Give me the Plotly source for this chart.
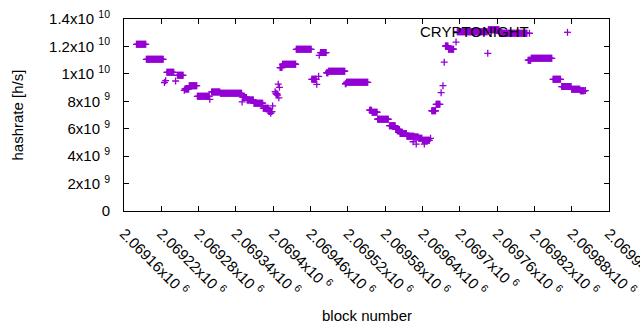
import plotly.graph_objects as go

# Step runs of hashrate (block range start/end inclusive, hashrate in h/s)
run_start = [2069180, 2069196, 2069229, 2069246, 2069258, 2069265, 2069278, 2069301, 2069315,
             2069351, 2069358, 2069369, 2069384, 2069393, 2069411, 2069415, 2069437, 2069462,
             2069476, 2069486, 2069489, 2069516, 2069518, 2069555, 2069559, 2069568, 2069587,
             2069597, 2069604, 2069615, 2069627, 2069634, 2069640, 2069655, 2069662, 2069677,
             2069682, 2069696, 2069746, 2069764, 2069810, 2069815, 2069850, 2069864, 2069880,
             2069894]
run_end = [2069195, 2069223, 2069240, 2069255, 2069264, 2069277, 2069297, 2069314, 2069349,
           2069357, 2069368, 2069383, 2069392, 2069398, 2069414, 2069436, 2069461, 2069469,
           2069485, 2069488, 2069515, 2069517, 2069552, 2069558, 2069567, 2069585, 2069596,
           2069603, 2069614, 2069626, 2069633, 2069639, 2069651, 2069661, 2069668, 2069681,
           2069690, 2069744, 2069763, 2069808, 2069814, 2069848, 2069862, 2069879, 2069893,
           2069900]
run_hashrate = [12.15e9, 11.06e9, 10.11e9, 9.89e9, 8.90e9, 9.14e9, 8.36e9, 8.68e9, 8.58e9,
                8.28e9, 8.10e9, 7.86e9, 7.50e9, 7.25e9, 10.46e9, 10.70e9, 11.79e9, 9.60e9,
                11.55e9, 10.08e9, 10.19e9, 9.28e9, 9.38e9, 7.35e9, 7.20e9, 6.69e9, 6.22e9,
                5.95e9, 5.65e9, 5.45e9, 5.40e9, 5.30e9, 5.15e9, 7.31e9, 7.78e9, 12.03e9,
                11.80e9, 13.07e9, 13.22e9, 12.96e9, 11.00e9, 11.13e9, 9.60e9, 9.07e9, 8.88e9,
                8.76e9]

# Individual blocks off the plateaus
single_block = [2069225, 2069227, 2069243, 2069257, 2069298, 2069350, 2069396, 2069399,
                2069403, 2069404, 2069405, 2069406, 2069407, 2069408, 2069409, 2069410,
                2069470, 2069473, 2069474, 2069625, 2069630, 2069643, 2069653, 2069670,
                2069673, 2069675, 2069694, 2069745, 2069812, 2069902]
single_hashrate = [9.37e9, 9.50e9, 9.48e9, 8.80e9, 8.14e9, 7.95e9, 7.12e9, 7.66e9,
                   8.70e9, 8.60e9, 8.52e9, 8.55e9, 8.45e9, 9.25e9, 8.25e9, 9.02e9,
                   9.24e9, 9.82e9, 11.35e9, 5.05e9, 4.88e9, 4.88e9, 5.30e9, 8.63e9,
                   9.14e9, 10.85e9, 12.32e9, 11.50e9, 12.96e9, 8.78e9]

x_tickvals = [2069160 + 60 * i for i in range(14)]
x_ticktext = ["2.06916", "2.06922", "2.06928", "2.06934", "2.0694", "2.06946", "2.06952",
              "2.06958", "2.06964", "2.0697", "2.06976", "2.06982", "2.06988", "2.06994"]
y_tickvals = [0, 2e9, 4e9, 6e9, 8e9, 1e10, 1.2e10, 1.4e10]
y_mant = ["0", "2", "4", "6", "8", "1", "1.2", "1.4"]
y_exp = [None, "9", "9", "9", "9", "10", "10", "10"]

series_name = "CRYPTONIGHT"
color = "#9400D3"

blocks, hashrate = [], []
for s, e, v in zip(run_start, run_end, run_hashrate):
    for b in range(s, e + 1):
        blocks.append(b)
        hashrate.append(v)
blocks += single_block
hashrate += single_hashrate

def sup(m, e):
    if e is None:
        return m
    return m + "x10 <sup>" + e + "</sup>"

fig = go.Figure()
fig.add_trace(go.Scatter(
    x=blocks, y=hashrate, mode="markers", name=series_name,
    marker=dict(symbol="cross-thin", size=5, color=color,
                line=dict(color=color, width=1.3)),
    showlegend=False, hoverinfo="skip",
))

font = dict(family="Liberation Sans, Arial, sans-serif", size=15, color="black")

fig.update_layout(
    width=640, height=330,
    margin=dict(l=124, r=31, t=19, b=119, autoexpand=False),
    paper_bgcolor="white", plot_bgcolor="white",
    font=font,
    xaxis=dict(range=[2069160, 2069940], tickvals=x_tickvals,
               ticktext=[sup(t, "6") for t in x_ticktext],
               tickangle=45, ticks="inside", ticklen=5, tickcolor="black",
               showline=True, linecolor="black", linewidth=1, mirror="allticks",
               showgrid=False, zeroline=False, tickfont=font, ticklabelstandoff=7,
               automargin=False, ticklabeloverflow="allow"),
    yaxis=dict(range=[0, 1.4e10], tickvals=y_tickvals,
               ticktext=[sup(m, e) for m, e in zip(y_mant, y_exp)],
               ticks="inside", ticklen=5, tickcolor="black",
               showline=True, linecolor="black", linewidth=1, mirror="allticks",
               showgrid=False, zeroline=False, tickfont=font, ticklabelstandoff=10,
               automargin=False),
    annotations=[
        dict(text="block number", xref="paper", yref="paper", x=0.5, y=-0.542,
             xanchor="center", yanchor="middle", showarrow=False, font=font),
        dict(text="hashrate [h/s]", xref="paper", yref="paper", x=-0.2196, y=0.5,
             xanchor="center", yanchor="middle", textangle=-90, showarrow=False, font=font),
        dict(text=series_name, xref="paper", yref="paper", x=0.839, y=0.935,
             xanchor="right", yanchor="middle", showarrow=False, font=font),
    ],
    shapes=[
        dict(type="line", xref="paper", yref="paper", x0=0.9144 - 0.0072, x1=0.9144 + 0.0072,
             y0=0.9307, y1=0.9307, line=dict(color=color, width=1.3)),
        dict(type="line", xref="paper", yref="paper", x0=0.9144, x1=0.9144,
             y0=0.9307 - 0.0182, y1=0.9307 + 0.0182, line=dict(color=color, width=1.3)),
    ],
)

fig.write_html("out.html",
               config={"displayModeBar": False, "staticPlot": True},
               post_script="document.body.style.margin='0';document.body.style.overflow='hidden';")
